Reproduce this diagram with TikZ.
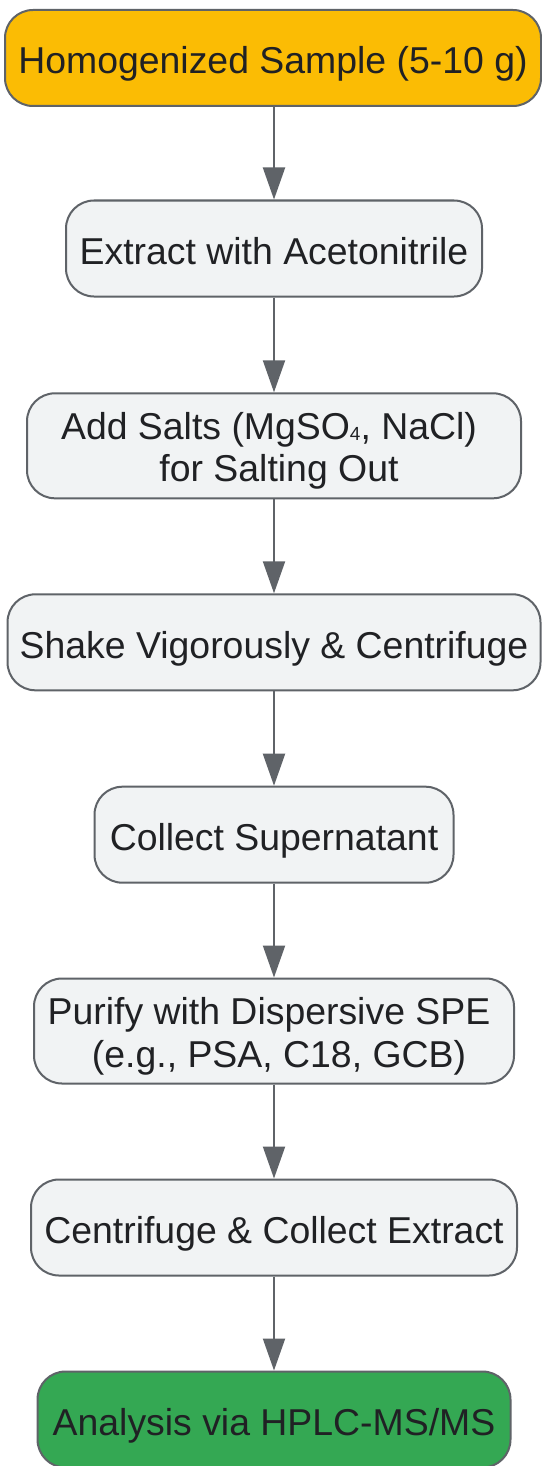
\documentclass[tikz,border=0pt]{standalone}
\usepackage{fontspec}
\setmainfont{Liberation Sans}
\usetikzlibrary{arrows.meta}
\definecolor{bordergrey}{HTML}{5F6368}
\definecolor{boxgrey}{HTML}{F1F3F4}
\definecolor{gyellow}{HTML}{FBBC04}
\definecolor{ggreen}{HTML}{34A853}
\definecolor{txtcol}{HTML}{202124}
\newcommand{\oneline}[1]{\raisebox{0pt}[32pt][0pt]{#1}}
\newcommand{\twoline}[2]{\raisebox{0pt}[72pt][0pt]{\begin{tabular}[b]{@{}c@{}}#1\\#2\end{tabular}}}
\newcommand{\subfour}{\raisebox{-1.5pt}{\fontsize{19}{19}\selectfont 4}}
\tikzset{
  stepbox/.style={draw=bordergrey, line width=2pt, rounded corners=28pt, fill=boxgrey,
    text=txtcol, inner sep=0pt, minimum height=96pt, font=\fontsize{37.4}{42.5}\selectfont},
  tallbox/.style={stepbox, minimum height=105pt},
  flowarrow/.style={draw=bordergrey, line width=2pt, -{Triangle[length=32pt,width=22pt]}}
}
\begin{document}
\begin{tikzpicture}[x=1pt,y=1pt]
\useasboundingbox[fill=white] (0,0) rectangle (541,-1466);
\node[stepbox, fill=gyellow, minimum width=536pt] (n1) at (273,-58) {\oneline{Homogenized Sample (5-10 g)}};
\node[stepbox, minimum width=416pt] (n2) at (274,-248.5) {\oneline{Extract with Acetonitrile}};
\node[tallbox, minimum width=494pt] (n3) at (274,-445.8) {\twoline{Add Salts (MgSO\subfour, NaCl)\hspace*{10pt}}{\hspace*{10pt}for Salting Out}};
\node[stepbox, minimum width=533pt] (n4) at (274,-642.3) {\oneline{Shake Vigorously \& Centrifuge}};
\node[stepbox, minimum width=359pt] (n5) at (274,-834.7) {\oneline{Collect Supernatant}};
\node[tallbox, minimum width=480pt] (n6) at (274,-1031) {\twoline{Purify with Dispersive SPE\hspace*{10pt}}{\hspace*{10pt}(e.g., PSA, C18, GCB)}};
\node[stepbox, minimum width=486pt] (n7) at (274,-1227.5) {\oneline{Centrifuge \& Collect Extract}};
\node[stepbox, fill=ggreen, minimum width=473pt] (n8) at (274,-1419.5) {\oneline{Analysis via HPLC-MS/MS}};
\draw[flowarrow] (n1.south -| n2.north) -- (n2.north);
\draw[flowarrow] (n2.south) -- (n3.north);
\draw[flowarrow] (n3.south) -- (n4.north);
\draw[flowarrow] (n4.south) -- (n5.north);
\draw[flowarrow] (n5.south) -- (n6.north);
\draw[flowarrow] (n6.south) -- (n7.north);
\draw[flowarrow] (n7.south) -- (n8.north);
\end{tikzpicture}
\end{document}
